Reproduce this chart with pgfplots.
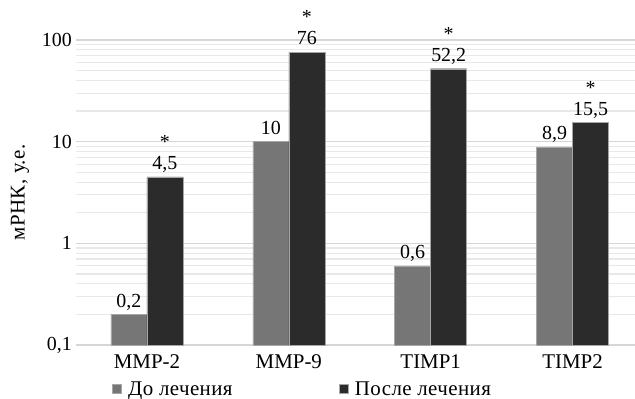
\documentclass[border=0pt]{standalone}
\usepackage{pgfplots}
\pgfplotsset{compat=1.18}
\usepackage{fontspec}
\setmainfont{Liberation Serif}
\newfontfamily\widefont[LetterSpace=2]{Liberation Serif}
\definecolor{gbar}{RGB}{118,118,118}
\definecolor{dbar}{RGB}{43,43,43}
\definecolor{gmaj}{RGB}{214,214,214}
\definecolor{gmin}{RGB}{232,232,232}
\newcommand{\ff}{\fontsize{20}{21}\selectfont}
\newcommand{\fl}{\fontsize{21}{22}\selectfont}
\pgfplotstableread{
x y lab
0 0.2 0,2
1 10 10
2 0.6 0,6
3 8.9 8,9
}\before
\pgfplotstableread{
x y lab
0 4.5 4,5
1 76 76
2 52.2 52,2
3 15.5 15,5
}\after
\begin{document}
\begin{tikzpicture}
\begin{axis}[
 scale only axis, width=559bp, height=305bp,
 ymode=log, ymin=0.1, ymax=100, log origin=infty,
 xmin=-0.5, xmax=3.44,
 ybar=0pt, bar width=36bp,
 clip=false,
 xtick={0,1,2,3}, xticklabels={MMP-2,MMP-9,TIMP1,TIMP2},
 ytick={0.1,1,10,100}, yticklabels={{0,1},1,10,100},
 major tick length=0pt, minor tick length=0pt,
 axis line style={draw=none},
 ymajorgrids, yminorgrids,
 major grid style={color=gmaj, line width=1.5bp},
 minor grid style={color=gmin, line width=1.2bp},
 xticklabel style={font=\fl, inner sep=0pt, anchor=north, yshift=-9bp},
 yticklabel style={font=\ff, inner sep=0pt, anchor=east, xshift=-4bp},
 ylabel={мРНК, у.е.},
 every axis y label/.style={at={(axis description cs:-0.1,0.5)}, rotate=90, anchor=center, font=\widefont\fl},
 point meta=explicit symbolic,
 every node near coord/.append style={font=\ff, inner sep=0pt, text depth=0pt, yshift=7bp, align=center, text=black},
 legend style={at={(axis description cs:0.405,-0.144)}, anchor=center, draw=none, fill=none, font=\widefont\fl, legend columns=2,
   /tikz/every even column/.append style={column sep=104bp},
   /tikz/every odd column/.append style={column sep=5bp}},
 legend image code/.code={\fill[#1] (0bp,-4.5bp) rectangle (9bp,4.5bp);},
]
\coordinate (bl) at (rel axis cs:0,0);
\addplot[fill=gbar, draw=gray!70, line width=0.4bp, nodes near coords] table[x=x, y=y, meta=lab] {\before};
\addplot[fill=dbar, draw=gray!70, line width=0.4bp, nodes near coords={*\\\pgfplotspointmeta}] table[x=x, y=y, meta=lab] {\after};
\legend{До лечения, После лечения}
\end{axis}
\pgfresetboundingbox
\path (bl) ++(-76bp,-54bp) rectangle ++(635bp,399bp);
\end{tikzpicture}
\end{document}
